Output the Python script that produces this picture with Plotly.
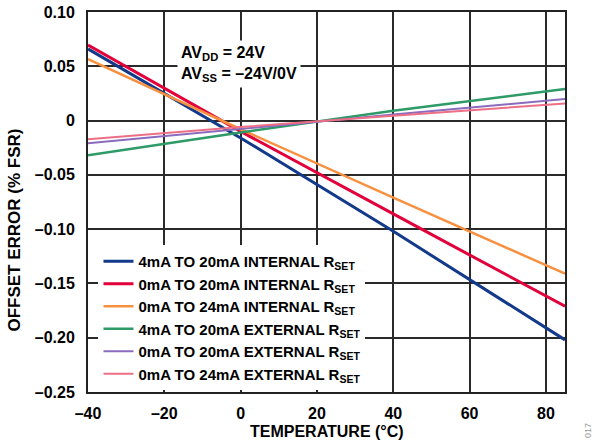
import plotly.graph_objects as go

# ---- data ----
temperature = [-40, 0, 40, 85]
int_4_20 = [0.066, -0.016, -0.102, -0.202]
int_0_20 = [0.0695, -0.010, -0.086, -0.171]
int_0_24 = [0.0565, -0.008, -0.071, -0.141]
ext_4_20 = [-0.032, -0.011, 0.009, 0.029]
ext_0_20 = [-0.021, -0.0075, 0.0055, 0.0198]
ext_0_24 = [-0.0173, -0.006, 0.0044, 0.0158]

series_names = [
    "4mA TO 20mA INTERNAL R<sub>SET</sub>",
    "0mA TO 20mA INTERNAL R<sub>SET</sub>",
    "0mA TO 24mA INTERNAL R<sub>SET</sub>",
    "4mA TO 20mA EXTERNAL R<sub>SET</sub>",
    "0mA TO 20mA EXTERNAL R<sub>SET</sub>",
    "0mA TO 24mA EXTERNAL R<sub>SET</sub>",
]
series_values = [int_4_20, int_0_20, int_0_24, ext_4_20, ext_0_20, ext_0_24]
colors = ["#13398A", "#E2003A", "#F7903F", "#2E9A67", "#8A6BBE", "#EC6F86"]
widths = [3, 3, 2.5, 2.5, 2, 2]

x_tickvals = [-40, -20, 0, 20, 40, 60, 80]
x_ticktext = ["–40", "–20", "0", "20", "40", "60", "80"]
y_tickvals = [-0.25, -0.20, -0.15, -0.10, -0.05, 0, 0.05, 0.10]
y_ticktext = ["–0.25", "–0.20", "–0.15", "–0.10", "–0.05", "0", "0.05", "0.10"]

FONT = "Liberation Sans, Arial, sans-serif"

fig = go.Figure()
for name, vals, c, w in zip(series_names, series_values, colors, widths):
    fig.add_trace(go.Scatter(x=temperature, y=vals, mode="lines", name=name,
                             line=dict(color=c, width=w)))

axis_common = dict(showgrid=True, gridcolor="#2a2a2a", gridwidth=1.5,
                   showline=True, linecolor="#222", linewidth=2, mirror=True,
                   zeroline=False, ticks="", automargin=False,
                   tickfont=dict(family=FONT, size=16, color="black", weight="bold"))

fig.update_xaxes(range=[-40, 85], tickvals=x_tickvals, ticktext=x_ticktext,
                 ticklabelstandoff=6, **axis_common)
fig.update_yaxes(range=[-0.25, 0.10], tickvals=y_tickvals, ticktext=y_ticktext,
                 ticklabelstandoff=8, **axis_common)

fig.update_layout(
    width=592, height=448,
    margin=dict(l=88, r=27, t=12, b=56, autoexpand=False),
    paper_bgcolor="white", plot_bgcolor="white",
    showlegend=True,
    legend=dict(x=0.022, y=0.387, xanchor="left", yanchor="top",
                bgcolor="white", borderwidth=0,
                font=dict(family=FONT, size=15, color="black", weight="bold"),
                tracegroupgap=0),
    annotations=[
        dict(text="AV<sub>DD</sub> = 24V<br>AV<sub>SS</sub> = –24V/0V",
             xref="paper", yref="paper", x=0.1866, y=0.926,
             xanchor="left", yanchor="top", align="left", showarrow=False,
             bgcolor="white", borderpad=3,
             font=dict(family=FONT, size=16, color="black", weight="bold")),
        dict(text="TEMPERATURE (°C)", xref="paper", yref="paper",
             x=0.501, y=-0.105, xanchor="center", yanchor="middle", showarrow=False,
             font=dict(family=FONT, size=16, color="black", weight="bold")),
        dict(text="OFFSET ERROR (% FSR)", xref="paper", yref="paper",
             x=-0.155, y=0.425, xanchor="center", yanchor="middle", showarrow=False,
             textangle=-90,
             font=dict(family=FONT, size=17, color="black", weight="bold")),
        dict(text="017", xref="paper", yref="paper",
             x=1.048, y=-0.10, xanchor="center", yanchor="middle", showarrow=False,
             textangle=-90, font=dict(family=FONT, size=9, color="#999")),
    ],
)

# remove the browser's default 8px body margin so the figure sits at the page origin
fig.write_html("out.html", config={"displayModeBar": False},
               post_script="document.body.style.margin='0px';")
